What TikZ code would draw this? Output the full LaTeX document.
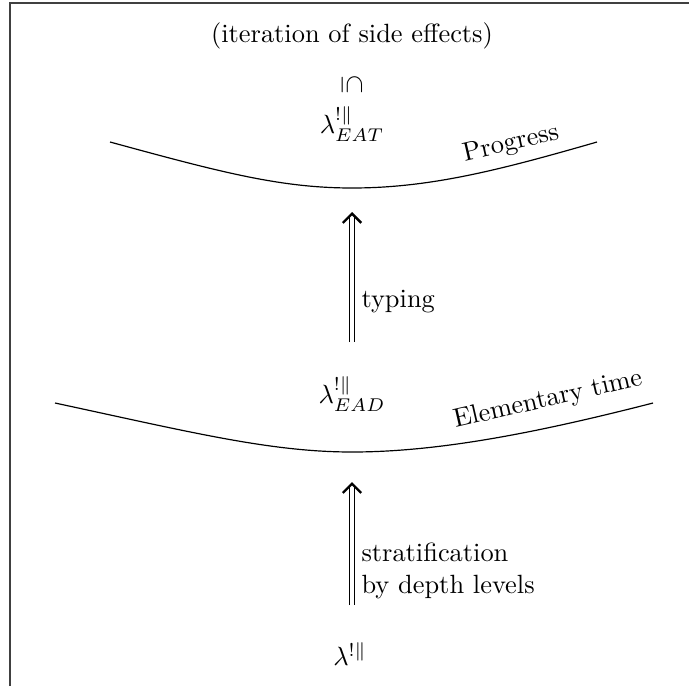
\documentclass[tikz,border=0pt]{standalone}
\usepackage{graphicx}
\usetikzlibrary{arrows.meta}
\begin{document}
\begin{tikzpicture}[x=0.379pt,y=-0.379pt,
  frameline/.style={line width=0.6pt,draw=black!75},
  curveline/.style={line width=0.45pt},
  implyarrow/.style={double,double distance=1.6pt,line width=0.45pt,-{Straight Barb[length=3.5pt,width=7pt,line width=0.9pt]}},
  lbl/.style={inner sep=0pt}]
\useasboundingbox (0,0) rectangle (689,686);
\draw[frameline] (10,686) -- (10,3) -- (689,3);
\node[lbl] (title) at (352,36) {(iteration of side effects)};
\node[lbl] (sub) at (352,85) {\rotatebox{-90}{$\subseteq$}};
\node[lbl] (eat) at (352,124) {$\lambda^{!\|}_{EAT}$};
\node[lbl] (ead) at (352,394) {$\lambda^{!\|}_{EAD}$};
\node[lbl] (base) at (350,654) {$\lambda^{!\|}$};
% curves
\coordinate (c1a) at (110,142);
\coordinate (c1m) at (352,188);
\coordinate (c1b) at (597,142);
\draw[curveline] (c1a) .. controls (220,172) and (280,188) .. (c1m) .. controls (430,188) and (500,170) .. (c1b);
\node[lbl,rotate=13] (prog) at (511,144) {Progress};
\coordinate (c2a) at (55,403);
\coordinate (c2m) at (352,452);
\coordinate (c2b) at (653,403);
\draw[curveline] (c2a) .. controls (190,432) and (270,452) .. (c2m) .. controls (440,452) and (540,432) .. (c2b);
\node[lbl,rotate=13] (elem) at (548,400) {Elementary time};
% arrows
\coordinate (a1s) at (352,342);
\coordinate (a1e) at (352,212);
\draw[implyarrow] (a1s) -- (a1e);
\node[lbl,anchor=west] (typ) at (361,302) {typing};
\coordinate (a2s) at (352,605);
\coordinate (a2e) at (352,482);
\draw[implyarrow] (a2s) -- (a2e);
\node[lbl,anchor=west,align=left] (strat) at (361,571) {stratification\\by depth levels};
\end{tikzpicture}
\end{document}
